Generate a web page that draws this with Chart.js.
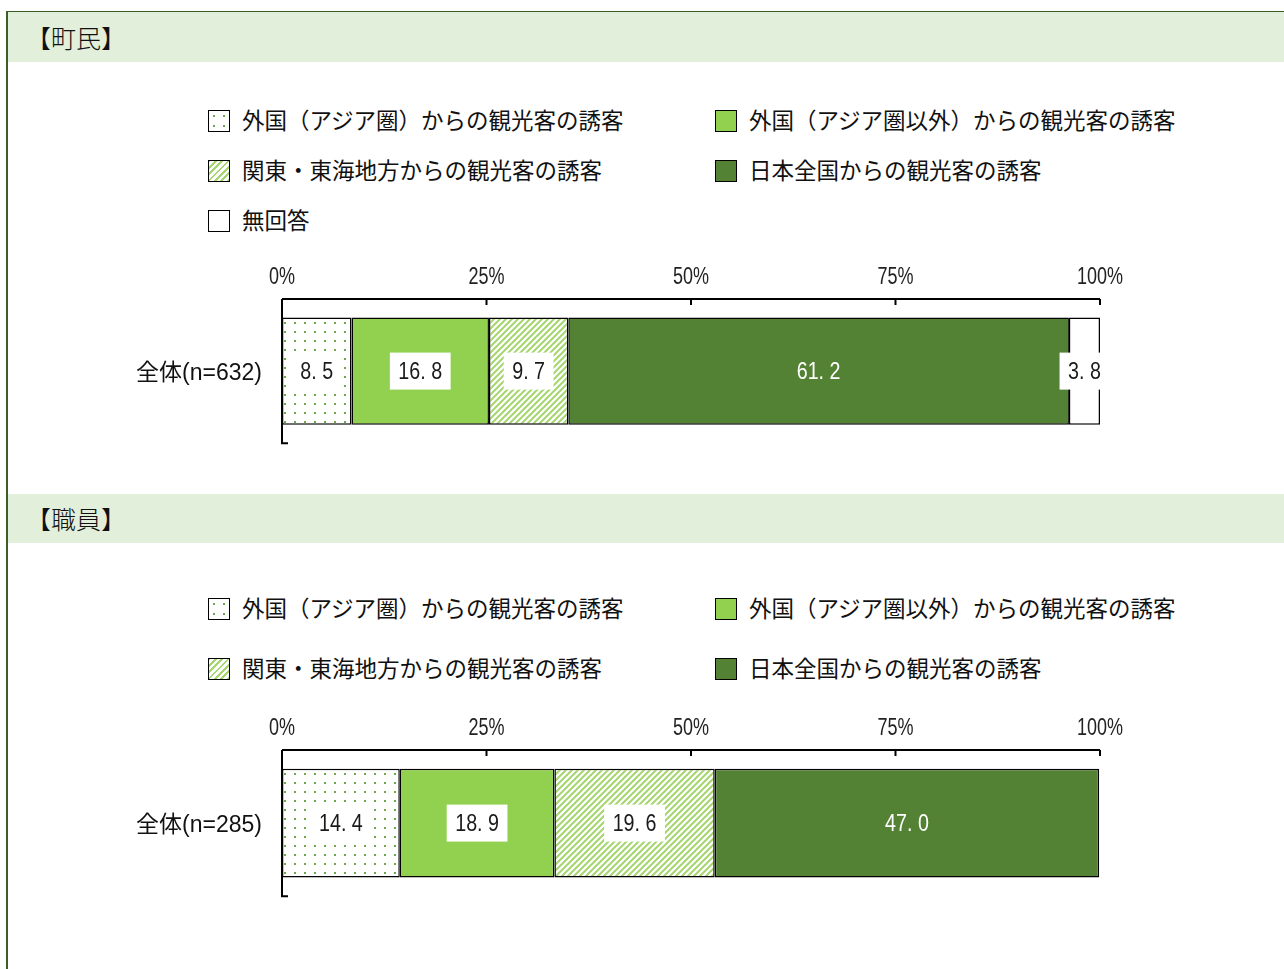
<!DOCTYPE html>
<html lang="ja">
<head>
<meta charset="utf-8">
<script src="https://cdn.jsdelivr.net/npm/chart.js@4.4.1/dist/chart.umd.min.js"></script>
<style>
  body { margin: 0; width: 1284px; height: 969px; position: relative; overflow: hidden; background: #fff;
         font-family: "Noto Sans CJK JP", sans-serif; color: #111; text-spacing-trim: space-all; }
  .frame { position: absolute; left: 6px; top: 11px; width: 1300px; height: 1000px;
           border-top: 2px solid #3b5e25; border-left: 2px solid #3b5e25; }
  .head { position: absolute; left: 8px; width: 1276px; height: 50px; background: #e2efda;
          font: 300 25px "Noto Sans CJK JP", sans-serif; line-height: 50px; padding-left: 18px; box-sizing: border-box; }
  .leg { position: absolute; font-size: 22.5px; line-height: 24px; white-space: nowrap; }
  .leg i { display: inline-block; width: 20px; height: 20px; border: 1.5px solid #000;
           vertical-align: -3px; margin-right: 12px; box-sizing: content-box; }
  .sw0 { background: radial-gradient(circle, #6ea84a 1px, transparent 1.4px) 0 0 / 10px 10px, #fff; }
  .sw1 { background: #92d050; }
  .sw2 { background: repeating-linear-gradient(-45deg, #a6d66f 0 2px, #fff 2px 4.5px); }
  .sw3 { background: #548235; }
  .sw4 { background: #fff; }
  .wrap { position: absolute; left: 0; width: 1284px; }
</style>
</head>
<body>
<div class="frame"></div>
<div class="head" style="top:12px">【町民】</div>
<div id="legend1"></div>
<div class="wrap" style="top:255px"><canvas id="chart1" width="1284" height="200"></canvas></div>
<div class="head" style="top:494px;height:49px;line-height:49px">【職員】</div>
<div id="legend2"></div>
<div class="wrap" style="top:706px"><canvas id="chart2" width="1284" height="200"></canvas></div>
<script>
const seriesNames = [
  "外国（アジア圏）からの観光客の誘客",
  "外国（アジア圏以外）からの観光客の誘客",
  "関東・東海地方からの観光客の誘客",
  "日本全国からの観光客の誘客",
  "無回答",
];
const chouminLabels = ["全体(n=632)"];
const chouminValues = [8.5, 16.8, 9.7, 61.2, 3.8];
const shokuinLabels = ["全体(n=285)"];
const shokuinValues = [14.4, 18.9, 19.6, 47.0];
const xTickValues = [0, 25, 50, 75, 100];

function makeDots() {
  const c = document.createElement("canvas");
  c.width = 10; c.height = 9;
  const g = c.getContext("2d");
  g.fillStyle = "#fff"; g.fillRect(0, 0, 10, 9);
  g.fillStyle = "#6ea84a"; g.fillRect(4, 4, 2, 2);
  return g.createPattern(c, "repeat");
}
function makeHatch() {
  const c = document.createElement("canvas");
  c.width = 6; c.height = 6;
  const g = c.getContext("2d");
  g.fillStyle = "#fff"; g.fillRect(0, 0, 6, 6);
  g.strokeStyle = "#a6d66f"; g.lineWidth = 2;
  g.beginPath();
  g.moveTo(-1, 7); g.lineTo(7, -1);
  g.moveTo(-1, 1); g.lineTo(1, -1);
  g.moveTo(5, 7); g.lineTo(7, 5);
  g.stroke();
  return g.createPattern(c, "repeat");
}
const fills = [makeDots(), "#92d050", makeHatch(), "#548235", "#fff"];

function buildLegend(id, count, top, gap) {
  const box = document.getElementById(id);
  for (let i = 0; i < count; i++) {
    const d = document.createElement("div");
    d.className = "leg";
    d.style.left = (i % 2 ? 715 : 208) + "px";
    d.style.top = top + Math.floor(i / 2) * gap + "px";
    d.innerHTML = `<i class="sw${i}"></i>${seriesNames[i]}`;
    box.appendChild(d);
  }
}

// axis lines, inward ticks and the narrow % labels of the top axis
const axisLines = {
  id: "axisLines",
  afterDatasetsDraw(chart) {
    const { ctx, chartArea: a } = chart, x = chart.scales.x;
    ctx.save();
    ctx.strokeStyle = "#000";
    ctx.lineWidth = 2;
    ctx.beginPath();
    ctx.moveTo(a.left, a.top); ctx.lineTo(a.right, a.top);
    x.ticks.forEach((t) => {
      const px = x.getPixelForValue(t.value);
      ctx.moveTo(px, a.top); ctx.lineTo(px, a.top + 6);
    });
    ctx.moveTo(a.left, a.top); ctx.lineTo(a.left, a.bottom);
    ctx.lineTo(a.left + 6, a.bottom);
    ctx.stroke();

    ctx.font = '24px "Liberation Sans", sans-serif';
    ctx.fillStyle = "#222";
    ctx.textAlign = "center";
    ctx.textBaseline = "alphabetic";
    x.ticks.forEach((t) => {
      ctx.save();
      ctx.translate(x.getPixelForValue(t.value), a.top - 15);
      ctx.scale(0.75, 1);
      ctx.fillText(t.value + "%", 0, 0);
      ctx.restore();
    });
    ctx.restore();
  },
};

const barLabels = {
  id: "barLabels",
  afterDatasetsDraw(chart) {
    const { ctx, chartArea: a } = chart;
    ctx.save();
    ctx.font = '24px "Liberation Sans", sans-serif';
    ctx.textAlign = "center";
    ctx.textBaseline = "middle";
    chart.data.datasets.forEach((ds, i) => {
      chart.getDatasetMeta(i).data.forEach((bar, j) => {
        const txt = ds.data[j].toFixed(1).replace(".", ". ");
        const cx = (bar.x + bar.base) / 2, cy = bar.y;
        if (ds.labelBox) {
          const w = ctx.measureText(txt).width * 0.82 + 17, h = 37;
          ctx.save();
          ctx.beginPath(); ctx.rect(a.left, a.top, a.width, a.height); ctx.clip();
          ctx.fillStyle = "#fff";
          ctx.fillRect(cx - w / 2, cy - h / 2, w, h);
          ctx.restore();
        }
        ctx.save();
        ctx.translate(cx, cy + 1);
        ctx.scale(0.82, 1);
        ctx.fillStyle = ds.labelColor;
        ctx.fillText(txt, 0, 0);
        ctx.restore();
      });
    });
    ctx.restore();
  },
};

function drawChart(id, labels, values, areaBottom) {
  const datasets = values.map((v, i) => ({
    label: seriesNames[i],
    data: [v],
    backgroundColor: fills[i],
    borderColor: "#000",
    borderWidth: 1.5,
    borderSkipped: false,
    barPercentage: 0.745,
    categoryPercentage: 1,
    labelBox: i !== 3,
    labelColor: i === 3 ? "#fff" : "#1a1a1a",
  }));
  const chart = new Chart(document.getElementById(id), {
    type: "bar",
    data: { labels, datasets },
    plugins: [axisLines, barLabels],
    options: {
      indexAxis: "y",
      responsive: false,
      maintainAspectRatio: false,
      animation: false,
      layout: { padding: { left: 0, right: 184, top: 0, bottom: 0 } },
      plugins: { legend: { display: false }, tooltip: { enabled: false } },
      scales: {
        x: {
          stacked: true,
          position: "top",
          min: 0,
          max: 100,
          afterBuildTicks: (s) => { s.ticks = xTickValues.map((v) => ({ value: v })); },
          ticks: { display: false },
          grid: { display: false, drawTicks: false, tickLength: 0 },
          border: { display: false },
          afterFit: (s) => { s.height = 44; },
        },
        y: {
          stacked: true,
          ticks: {
            padding: 20,
            labelOffset: 3,
            color: "#111",
            font: { family: '"Liberation Sans", "Noto Sans CJK JP"', size: 23 },
          },
          grid: { display: false, drawTicks: false, tickLength: 0 },
          border: { display: false },
          afterFit: (s) => { s.width = 282; },
        },
      },
    },
  });
  // make the plot area end where the reference one does
  for (let k = 0; k < 3; k++) {
    const d = areaBottom - chart.chartArea.bottom;
    if (Math.abs(d) < 0.5) break;
    chart.resize(1284, Math.round(chart.height + d));
    chart.update();
  }
  return chart;
}

buildLegend("legend1", 5, 107, 50);
buildLegend("legend2", 4, 595, 60);
drawChart("chart1", chouminLabels, chouminValues, 188);
drawChart("chart2", shokuinLabels, shokuinValues, 190);
</script>
</body>
</html>
